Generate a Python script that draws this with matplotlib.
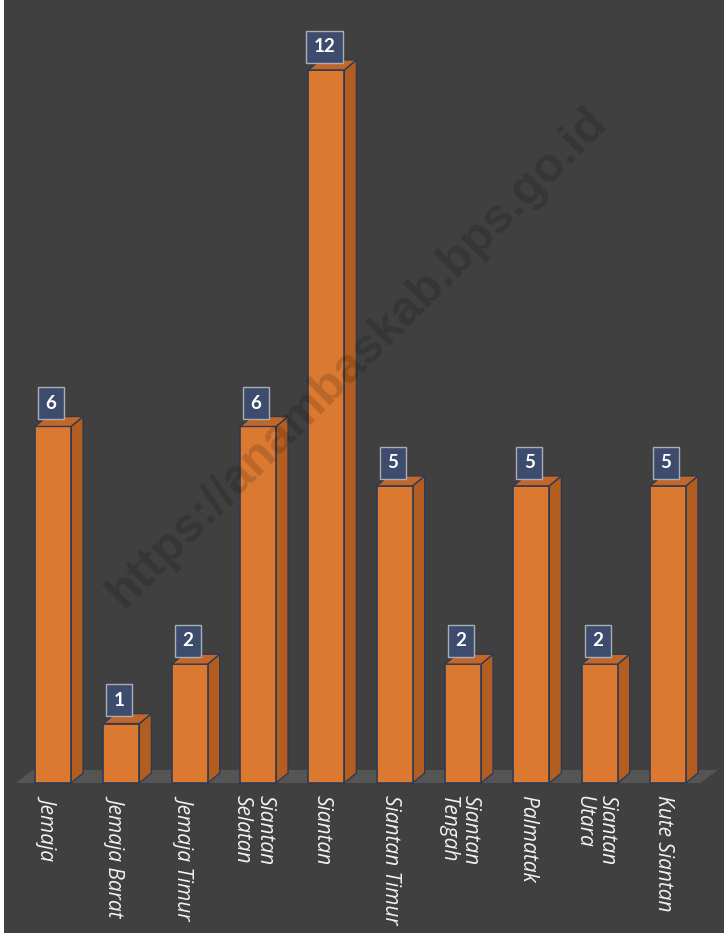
import matplotlib
matplotlib.use("Agg")

import matplotlib.pyplot as plt
from matplotlib.patches import Polygon, Rectangle
import numpy as np

# data
kecamatan = ["Jemaja", "Jemaja Barat", "Jemaja Timur", "Siantan\nSelatan", "Siantan",
             "Siantan Timur", "Siantan\nTengah", "Palmatak", "Siantan\nUtara", "Kute Siantan"]
jumlah = [6, 1, 2, 6, 12, 5, 2, 5, 2, 5]

BG = "#404040"
FRONT = "#DB7931"
SIDE = "#B35E20"
TOP = "#C2672A"
EDGE = "#2F3A52"
FLOOR = "#555555"

fig = plt.figure(figsize=(7.24, 9.33), dpi=100, facecolor="white")
fig.add_artist(Rectangle((4 / 724, 0), 1, 1, transform=fig.transFigure,
                         facecolor=BG, edgecolor="none", zorder=-10))
ax = fig.add_axes([0, 0, 1, 1])
ax.set_facecolor("none")
ax.set_xlim(-0.776, 9.82)
ax.set_ylim(-2.524, 13.177)
ax.axis("off")

x = np.arange(len(jumlah))
w = 0.527
dx, dy = 0.176, 0.168

# lantai (floor)
fdx, fdy = 0.26, 0.22
x0, x1 = x[0] - 0.55, x[-1] + 0.47
ax.add_patch(Polygon([(x0, 0), (x1, 0), (x1 + fdx, fdy), (x0 + fdx, fdy)],
                     closed=True, facecolor=FLOOR, edgecolor="none", zorder=1))

# muka depan batang
ax.bar(x, jumlah, width=w, color=FRONT, edgecolor=EDGE, linewidth=1.2, zorder=3)

# sisi kanan + atas
for xi, v in zip(x, jumlah):
    r = xi + w / 2
    l = xi - w / 2
    ax.add_patch(Polygon([(r, 0), (r + dx, dy), (r + dx, v + dy), (r, v)],
                         closed=True, facecolor=SIDE, edgecolor=EDGE, linewidth=1.0, zorder=2))
    ax.add_patch(Polygon([(l, v), (r, v), (r + dx, v + dy), (l + dx, v + dy)],
                         closed=True, facecolor=TOP, edgecolor=EDGE, linewidth=1.0, zorder=4))
    # label nilai
    ax.text(xi - 0.03, v + 0.39, str(v), ha="center", va="center", fontsize=13.5,
            fontweight="bold", color="white", family="Lato", zorder=6,
            bbox=dict(boxstyle="square,pad=0.4", facecolor="#3D4C6D",
                      edgecolor="#A9ADB5", linewidth=1))

# label kecamatan
for xi, lab in zip(x, kecamatan):
    ax.text(xi - 0.06, -0.2, lab, rotation=270, rotation_mode="anchor",
            ha="left", va="center", fontsize=15, fontstyle="italic",
            color="#F2F2F2", family="Open Sans", linespacing=1.12)

# watermark
ax.text(0.493, 0.617, "https://anambaskab.bps.go.id", transform=ax.transAxes,
        rotation=45, ha="center", va="center", fontsize=35, fontweight="bold",
        color="black", alpha=0.15, family="Liberation Sans", zorder=7)

plt.savefig("out.png", dpi=100, facecolor=fig.get_facecolor())
plt.close(fig)
